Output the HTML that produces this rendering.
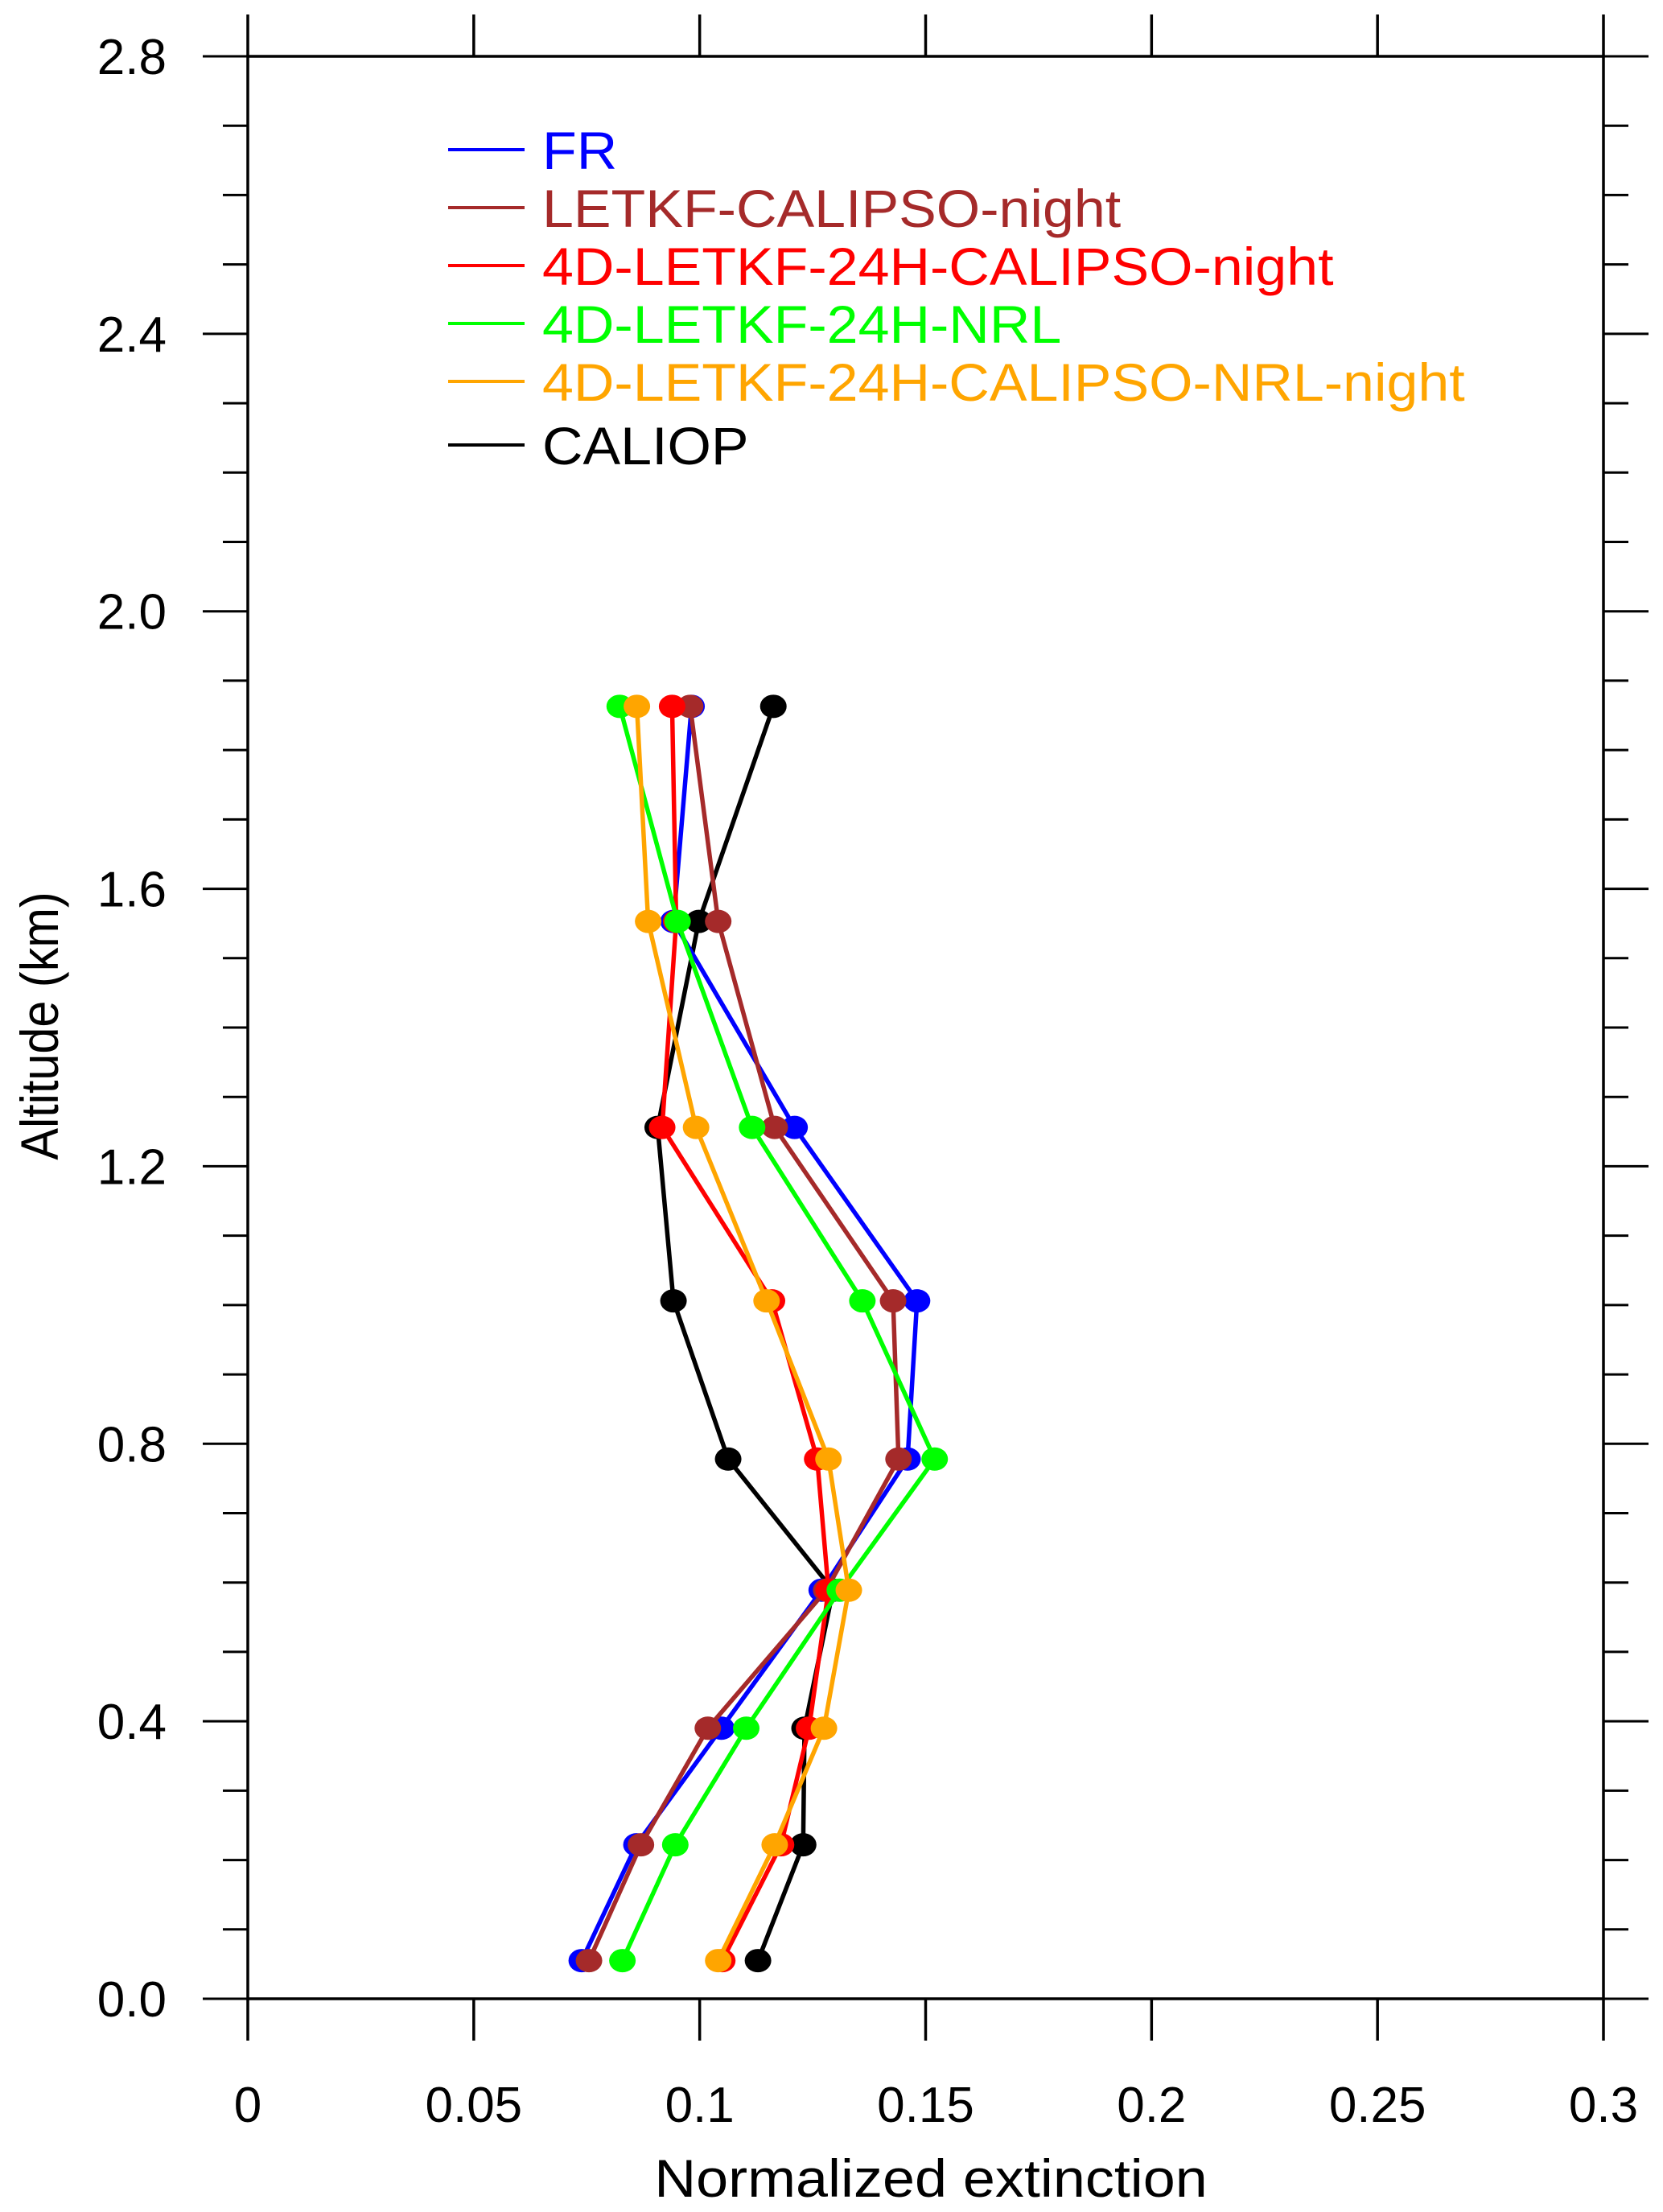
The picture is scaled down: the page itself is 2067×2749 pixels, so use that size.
<!DOCTYPE html>
<html><head><meta charset="utf-8"><style>
html,body{margin:0;padding:0;background:#fff}
svg{display:block}
text{font-family:"Liberation Sans",sans-serif;fill:#000}
</style></head><body>
<svg id="chart" width="2067" height="2749" viewBox="0 0 2067 2749" xmlns="http://www.w3.org/2000/svg">
<g id="axes"></g>
<g id="series"></g>
<g id="legend"></g>
<text transform="translate(1157,2730) scale(1.09,1)" x="0" y="0" font-size="66" text-anchor="middle">Normalized extinction</text>
<text transform="translate(72,1275) rotate(-90) scale(0.9,1)" font-size="66" text-anchor="middle">Altitude (km)</text>
</svg>
<script>
const altitudes=[0.055,0.222,0.39,0.589,0.778,1.006,1.256,1.553,1.863];
const seriesNames=["FR","LETKF-CALIPSO-night","4D-LETKF-24H-CALIPSO-night","4D-LETKF-24H-NRL","4D-LETKF-24H-CALIPSO-NRL-night","CALIOP"];
const seriesColors=["#0000ff","#a52a2a","#ff0000","#00ff00","#ffa500","#000000"];
const frValues=[0.0739,0.0860,0.1048,0.1270,0.1460,0.1481,0.1210,0.0942,0.0982];
const letkfValues=[0.0755,0.0870,0.1018,0.1280,0.1440,0.1428,0.1166,0.1041,0.0979];
const letkf4dCalValues=[0.1050,0.1180,0.1242,0.1285,0.1260,0.1160,0.0917,0.0948,0.0939];
const letkf4dNrlValues=[0.0829,0.0946,0.1103,0.1310,0.1520,0.1360,0.1116,0.0951,0.0823];
const letkf4dCalNrlValues=[0.1041,0.1166,0.1275,0.1330,0.1285,0.1148,0.0992,0.0886,0.0861];
const caliopValues=[0.1129,0.1229,0.1232,0.1295,0.1063,0.0942,0.0907,0.0998,0.1163];
const xTickLabels=["0","0.05","0.1","0.15","0.2","0.25","0.3"];
const xTickValues=[0,0.05,0.1,0.15,0.2,0.25,0.3];
const yTickLabels=["0.0","0.4","0.8","1.2","1.6","2.0","2.4","2.8"];
const yTickValues=[0,0.4,0.8,1.2,1.6,2.0,2.4,2.8];

const NS="http://www.w3.org/2000/svg";
const L=308,R=1993,T=70,B=2484;
const xs=v=>L+(v-0)/(0.3-0)*(R-L);
const ys=v=>B-(v-0)/(2.8-0)*(B-T);
function mk(tag,attrs,parent){const e=document.createElementNS(NS,tag);for(const k in attrs)e.setAttribute(k,attrs[k]);parent.appendChild(e);return e;}
const axes=document.getElementById('axes');
const frame=mk('rect',{x:L,y:T,width:R-L,height:B-T,fill:'none',stroke:'#000','stroke-width':3.5},axes);


xTickValues.forEach((v,i)=>{
  const x=xs(v);
  const t1=mk('line',{x1:x,y1:B,x2:x,y2:B+52,stroke:'#000','stroke-width':3.5},axes);
  
  
  const t2=mk('line',{x1:x,y1:T,x2:x,y2:T-52,stroke:'#000','stroke-width':3.5},axes);
  
  
  const lb=mk('text',{x:x,y:2637,'font-size':62,'text-anchor':'middle'},axes);
  lb.textContent=xTickLabels[i];
  
  
});
for(let k=0;k<=28;k++){
  const v=k*0.1, y=ys(v), major=(k%4===0);
  const len=major?56:31;
  const a=mk('line',{x1:L-len,y1:y,x2:L,y2:y,stroke:'#000','stroke-width':3},axes);
  
  
  const b=mk('line',{x1:R,y1:y,x2:R+len,y2:y,stroke:'#000','stroke-width':3},axes);
  
  
}
yTickValues.forEach((v,i)=>{
  const lb=mk('text',{x:207,y:ys(v)+22,'font-size':62,'text-anchor':'end'},axes);
  lb.textContent=yTickLabels[i];
  
  
});
const allSeries=[frValues,letkfValues,letkf4dCalValues,letkf4dNrlValues,letkf4dCalNrlValues,caliopValues];
const drawOrder=[5,0,1,2,3,4];
const sg=document.getElementById('series');
drawOrder.forEach(si=>{
  const vals=allSeries[si];
  const g=mk('g',{},sg);
  
  
  const pts=vals.map((v,i)=>xs(v)+','+ys(altitudes[i])).join(' ');
  const pl=mk('polyline',{points:pts,fill:'none',stroke:seriesColors[si],'stroke-width':5.5,'stroke-linejoin':'round'},g);
  
  
  vals.forEach((v,i)=>{
    const c=mk('ellipse',{cx:xs(v),cy:ys(altitudes[i]),rx:16.5,ry:14.5,fill:seriesColors[si]},g);
    
    
  });
});
const lg=document.getElementById('legend');
const legendY=[186,258,330,402,474,553];
seriesNames.forEach((n,i)=>{
  const ln=mk('line',{x1:557,y1:legendY[i],x2:652,y2:legendY[i],stroke:seriesColors[i],'stroke-width':4},lg);
  
  
  const t=mk('text',{transform:'translate(674,'+(legendY[i]+24)+') scale(1.06,1)','font-size':66,fill:seriesColors[i]},lg);
  t.style.fill=seriesColors[i];
  t.textContent=n;
  
  
});
</script>
</body></html>
